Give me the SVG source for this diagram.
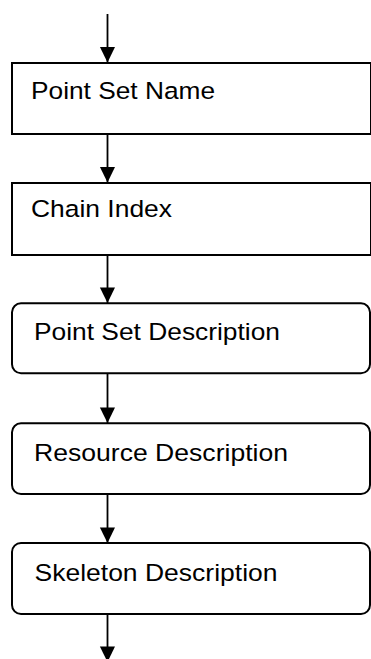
<svg xmlns="http://www.w3.org/2000/svg" width="371" height="659" viewBox="0 0 371 659">
  <style>
    .box { fill: #ffffff; stroke: #000000; stroke-width: 2; }
    .edge { stroke: #000000; stroke-width: 1.8; fill: none; marker-end: url(#arrow); }
    .label { font-family: "Liberation Sans", Arial, sans-serif; font-size: 24.5px; fill: #000000; }
  </style>
  <defs>
    <marker id="arrow" markerUnits="userSpaceOnUse" markerWidth="16" markerHeight="16" refX="15.6" refY="7.6" orient="auto">
      <path d="M0,0 L15.6,7.6 L0,15.2 z" fill="#000000"/>
    </marker>
  </defs>
  <rect width="371" height="659" fill="#ffffff"/>
  <g id="connectors">
    <line class="edge" x1="107.5" y1="14" x2="107.5" y2="62.5"/>
    <line class="edge" x1="107.5" y1="134" x2="107.5" y2="182.5"/>
    <line class="edge" x1="107.5" y1="255" x2="107.5" y2="303"/>
    <line class="edge" x1="107.5" y1="373.5" x2="107.5" y2="423"/>
    <line class="edge" x1="107.5" y1="494" x2="107.5" y2="543"/>
    <line class="edge" x1="107.5" y1="614" x2="107.5" y2="662"/>
  </g>
  <g id="point-set-name">
    <rect class="box" x="12" y="63" width="359" height="71"/>
    <text class="label" x="31" y="98.7" textLength="184" lengthAdjust="spacingAndGlyphs">Point Set Name</text>
  </g>
  <g id="chain-index">
    <rect class="box" x="12" y="183" width="359" height="72"/>
    <text class="label" x="31" y="216.7" textLength="141" lengthAdjust="spacingAndGlyphs">Chain Index</text>
  </g>
  <g id="point-set-description">
    <rect class="box" x="12" y="303.3" width="358" height="70" rx="9" ry="9"/>
    <text class="label" x="34" y="340" textLength="246" lengthAdjust="spacingAndGlyphs">Point Set Description</text>
  </g>
  <g id="resource-description">
    <rect class="box" x="12" y="423.3" width="358" height="70.7" rx="9" ry="9"/>
    <text class="label" x="34" y="460.7" textLength="254" lengthAdjust="spacingAndGlyphs">Resource Description</text>
  </g>
  <g id="skeleton-description">
    <rect class="box" x="12" y="543" width="358" height="71" rx="9" ry="9"/>
    <text class="label" x="34.5" y="581" textLength="243" lengthAdjust="spacingAndGlyphs">Skeleton Description</text>
  </g>
</svg>
